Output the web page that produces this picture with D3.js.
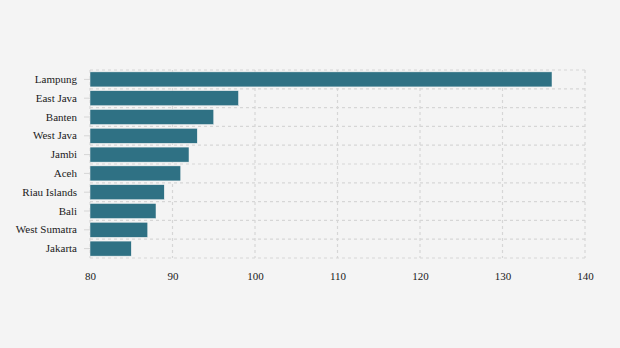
<!DOCTYPE html>
<html><head><meta charset="utf-8">
<script src="https://cdn.jsdelivr.net/npm/d3@7"></script>
<style>body{margin:0;background:#f4f4f4}svg{display:block}
svg text{font-family:"Liberation Serif","Times New Roman",Times,serif !important;font-size:11px !important;fill:#1a1a1a}</style>
</head><body>
<script>
const categories = ["Lampung","East Java","Banten","West Java","Jambi","Aceh","Riau Islands","Bali","West Sumatra","Jakarta"];
const values = [136,98,95,93,92,91,89,88,87,85];
const xTicks = [80,90,100,110,120,130,140];

const W=620,H=348, m={l:90,r:35,t:70,b:90};
const svg=d3.select("body").append("svg").attr("width",W).attr("height",H);
svg.append("rect").attr("width",W).attr("height",H).attr("fill","#f4f4f4");
const x=d3.scaleLinear().domain([80,140]).range([m.l,W-m.r]);
const y=d3.scaleBand().domain(categories).range([m.t,H-m.b]).paddingInner(0.2).paddingOuter(0.1);
const grid="#d6d6d6";
const bounds=d3.range(categories.length+1).map(i=>m.t+i*((H-m.b-m.t)/categories.length));
svg.append("g").selectAll("line").data(bounds).join("line")
 .attr("x1",x(80)).attr("x2",x(140)).attr("y1",d=>d).attr("y2",d=>d)
 .attr("stroke",grid).attr("stroke-width",1.2).attr("stroke-dasharray","3,3");
svg.append("g").selectAll("line").data(xTicks).join("line")
 .attr("x1",d=>x(d)).attr("x2",d=>x(d)).attr("y1",m.t).attr("y2",H-m.b)
 .attr("stroke",grid).attr("stroke-width",1.2).attr("stroke-dasharray","3,3");
svg.append("g").selectAll("rect").data(values).join("rect")
 .attr("x",x(80)).attr("y",(d,i)=>y(categories[i]))
 .attr("width",d=>x(d)-x(80)).attr("height",y.bandwidth())
 .attr("fill","#2f7184").attr("stroke","#f4f4f4").attr("stroke-width",0.5);
const ya=svg.append("g").attr("transform",`translate(${m.l},0)`)
 .call(d3.axisLeft(y).tickSize(6).tickPadding(7));
ya.select(".domain").remove();
ya.selectAll(".tick line").attr("stroke","#d6d6d6");
const xa=svg.append("g").attr("transform",`translate(0,${H-m.b})`)
 .call(d3.axisBottom(x).tickValues(xTicks).tickSize(0).tickPadding(14));
xa.select(".domain").remove();
</script>
</body></html>
